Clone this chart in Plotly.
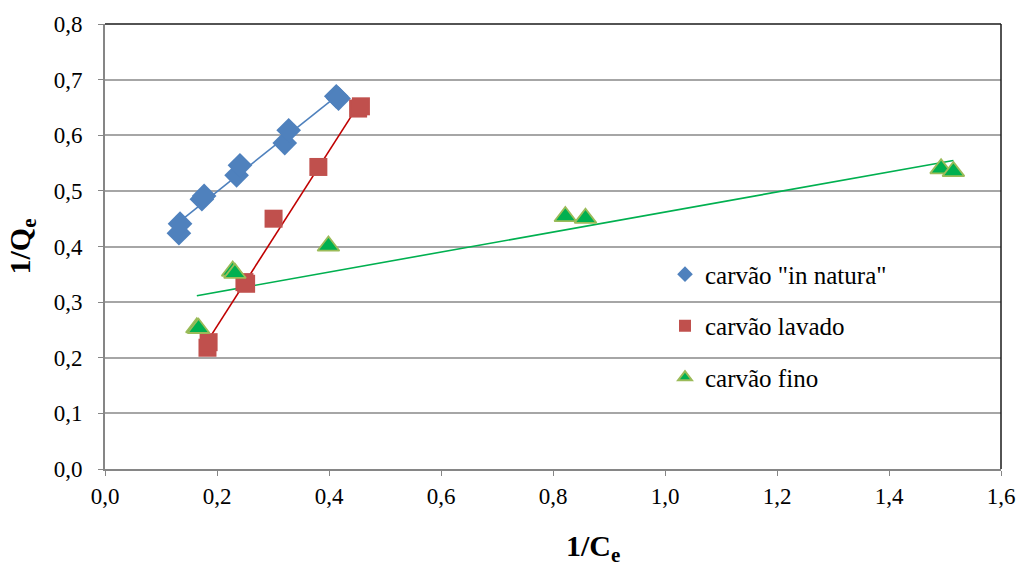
import numpy as np
import plotly.graph_objects as go

# 1/Ce and 1/Qe for the three coal samples
natura_x = [0.132, 0.134, 0.173, 0.177, 0.235, 0.241, 0.321, 0.328, 0.413, 0.417]
natura_y = [0.424, 0.441, 0.485, 0.491, 0.528, 0.546, 0.586, 0.609, 0.670, 0.666]

lavado_x = [0.183, 0.185, 0.249, 0.252, 0.301, 0.381, 0.452, 0.457]
lavado_y = [0.218, 0.228, 0.336, 0.333, 0.450, 0.543, 0.648, 0.652]

fino_x = [0.164, 0.167, 0.228, 0.232, 0.399, 0.822, 0.858, 1.493, 1.515]
fino_y = [0.254, 0.253, 0.356, 0.352, 0.401, 0.454, 0.451, 0.540, 0.535]

x_ticks = [0.0, 0.2, 0.4, 0.6, 0.8, 1.0, 1.2, 1.4, 1.6]
y_ticks = [0.0, 0.1, 0.2, 0.3, 0.4, 0.5, 0.6, 0.7, 0.8]

FONT = "Liberation Serif"

series = [
    ("carvão \"in natura\"", natura_x, natura_y, "diamond", 19, "#4F81BD", "#4F81BD", "#4F81BD"),
    ("carvão lavado", lavado_x, lavado_y, "square", 18, "#C0504D", "#C0504D", "#C00000"),
    ("carvão fino", fino_x, fino_y, "triangle-up", 19, "#00B050", "#9BBB59", "#00B050"),
]

fig = go.Figure()

for name, xs, ys, sym, size, fill, edge, line_col in series:
    # linear trendline fitted to the series
    slope, intercept = np.polyfit(xs, ys, 1)
    x_fit = np.array([min(xs), max(xs)])
    fig.add_trace(go.Scatter(
        x=x_fit, y=slope * x_fit + intercept, mode="lines",
        line=dict(color=line_col, width=1.6),
        showlegend=False, hoverinfo="skip", legendgroup=name,
    ))

for name, xs, ys, sym, size, fill, edge, line_col in series:
    fig.add_trace(go.Scatter(
        x=xs, y=ys, mode="markers", name=name, legendgroup=name,
        marker=dict(symbol=sym, size=size, color=fill,
                    line=dict(color=edge, width=1.8 if sym == "triangle-up" else 0)),
    ))

fig.update_layout(
    width=1027, height=572,
    margin=dict(l=105, r=23, t=19, b=103),
    paper_bgcolor="white", plot_bgcolor="white",
    separators=",.",
    font=dict(family=FONT, color="black", size=23),
    legend=dict(
        x=0.625, y=0.489, xanchor="left", yanchor="top",
        font=dict(family=FONT, size=25, color="black"),
        tracegroupgap=16, bgcolor="rgba(0,0,0,0)",
        itemsizing="constant", itemwidth=30,
    ),
    xaxis=dict(
        range=[0, 1.6], tickvals=x_ticks, tickformat=".1f",
        showgrid=False, zeroline=False,
        showline=True, linecolor="#868686", linewidth=2,
        ticks="outside", ticklen=5, tickcolor="#868686",
        tickfont=dict(family=FONT, size=23), ticklabelstandoff=0,
    ),
    yaxis=dict(
        range=[0, 0.8], tickvals=y_ticks, tickformat=".1f",
        showgrid=True, gridcolor="#A6A6A6", gridwidth=1.5,
        zeroline=False,
        showline=True, linecolor="#868686", linewidth=2,
        ticks="outside", ticklen=5, tickcolor="#868686",
        tickfont=dict(family=FONT, size=23), ticklabelstandoff=11,
        title=dict(text="<b>1/Q<sub>e</sub></b>", font=dict(family=FONT, size=30), standoff=14),
    ),
)

# x-axis title, set slightly right of centre
fig.add_annotation(x=0.545, y=-0.178, xref="paper", yref="paper", showarrow=False,
                   text="<b>1/C<sub>e</sub></b>", font=dict(family=FONT, size=30),
                   xanchor="center", yanchor="middle")

# dark frame on the top and right edges of the plot area
fig.add_shape(type="line", xref="paper", yref="paper", x0=0, x1=1, y0=1, y1=1,
              line=dict(color="#1a1a1a", width=1.5))
fig.add_shape(type="line", xref="paper", yref="paper", x0=1, x1=1, y0=0, y1=1,
              line=dict(color="#1a1a1a", width=1.5))

fig.write_html("out.html")
